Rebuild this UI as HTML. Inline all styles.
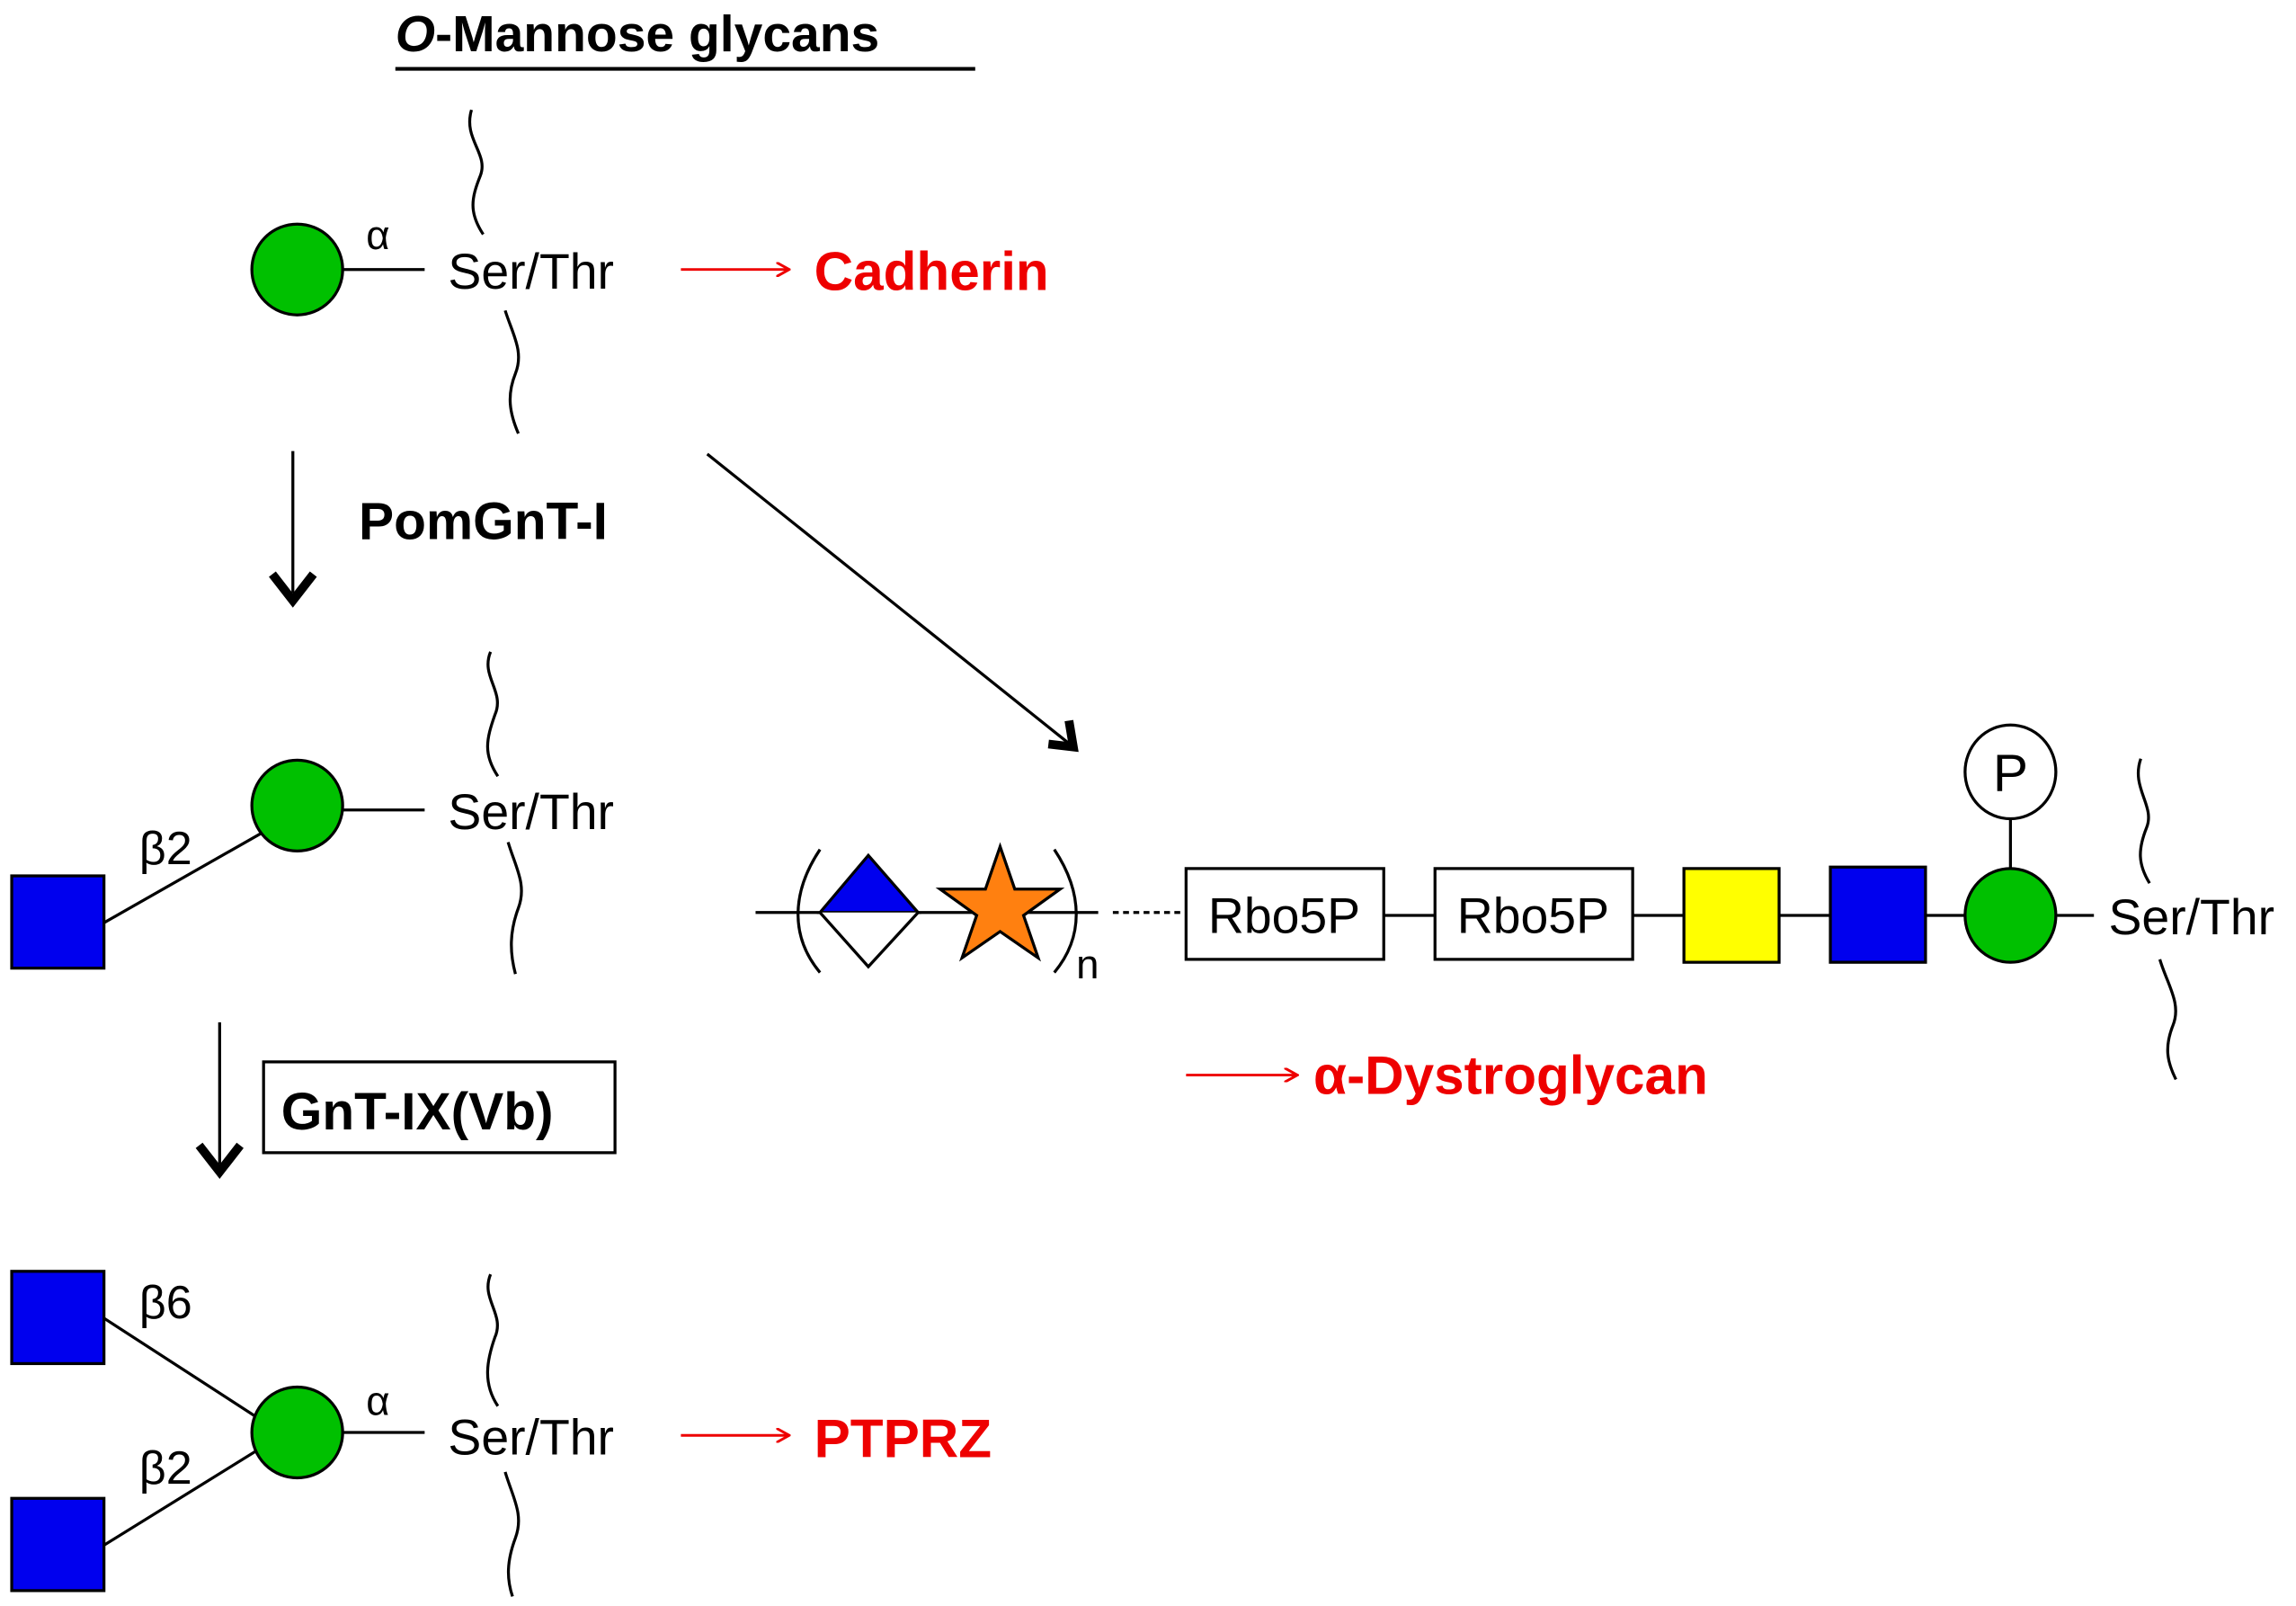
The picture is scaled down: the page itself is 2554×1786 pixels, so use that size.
<!DOCTYPE html>
<html><head><meta charset="utf-8"><style>html,body{margin:0;padding:0;background:#fff}svg{display:block}</style></head>
<body>
<svg width="2554" height="1786" viewBox="0 0 1568 1096.5" xmlns="http://www.w3.org/2000/svg" font-family="Liberation Sans, Arial, sans-serif">
<defs>
<marker id="ar" markerWidth="10" markerHeight="10" refX="9" refY="5" orient="auto" markerUnits="userSpaceOnUse"><path d="M0,0 L9,5 L0,10" fill="none" stroke="#e00" stroke-width="1.8"/></marker>
</defs>
<g stroke="#000" stroke-width="2" fill="none">
<!-- title -->
<line x1="270" y1="47" x2="666" y2="47" stroke-width="2.5"/>
<!-- structure 1 -->
<line x1="234" y1="184" x2="290" y2="184"/>
<path d="M322,75 C316,95 334,105 328,120 C322,135 320,145 330,160"/>
<path d="M345,212 C350,228 358,240 352,255 C346,270 348,282 354,296"/>
<!-- arrow down 1 -->
<line x1="200" y1="308" x2="200" y2="405"/>
<path d="M186,392 L200,410 L214,392" stroke-width="6"/>
<!-- diagonal arrow -->
<line x1="483" y1="310" x2="733" y2="510"/>
<path d="M716,508 L733,510 L730,492" stroke-width="6"/>
<!-- structure 2 -->
<line x1="234" y1="553" x2="290" y2="553"/>
<line x1="71" y1="630" x2="180" y2="568"/>
<path d="M335,445 C328,462 345,472 338,488 C332,505 330,515 340,530"/>
<path d="M347,575 C352,592 360,604 354,620 C348,636 348,650 352,665"/>
<!-- arrow down 2 -->
<line x1="150" y1="698" x2="150" y2="795"/>
<path d="M136,782 L150,800 L164,782" stroke-width="6"/>
<rect x="180" y="725" width="240" height="62" stroke-width="2"/>
<!-- structure 3 -->
<line x1="234" y1="978" x2="290" y2="978"/>
<line x1="71" y1="900" x2="176" y2="968"/>
<line x1="71" y1="1055" x2="176" y2="990"/>
<path d="M335,870 C328,887 345,897 338,913 C332,930 330,945 340,960"/>
<path d="M345,1005 C350,1022 358,1034 352,1050 C346,1066 346,1078 350,1090"/>
<!-- right chain -->
<line x1="516" y1="623" x2="750" y2="623"/>
<line x1="760" y1="623" x2="808" y2="623" stroke-dasharray="4,3"/>
<line x1="945" y1="625" x2="980" y2="625"/>
<line x1="1115" y1="625" x2="1150" y2="625"/>
<line x1="1215" y1="625" x2="1250" y2="625"/>
<line x1="1315" y1="625" x2="1342" y2="625"/>
<line x1="1405" y1="625" x2="1430" y2="625"/>
<line x1="1373" y1="559" x2="1373" y2="593"/>
<path d="M560,580 C540,610 540,640 560,664"/>
<path d="M720,580 C740,610 740,640 720,664"/>
<path d="M1462,518 C1455,538 1472,550 1466,565 C1460,580 1460,590 1468,603"/>
<path d="M1475,655 C1480,672 1490,685 1484,700 C1478,715 1480,725 1486,737"/>
</g>
<!-- red arrows -->
<g stroke="#e00" stroke-width="1.8" fill="none">
<line x1="465" y1="184" x2="539" y2="184" marker-end="url(#ar)"/>
<line x1="465" y1="980" x2="539" y2="980" marker-end="url(#ar)"/>
<line x1="810" y1="734" x2="886" y2="734" marker-end="url(#ar)"/>
</g>
<!-- shapes -->
<g stroke="#000" stroke-width="2">
<ellipse cx="203" cy="184" rx="31" ry="31" fill="#00c000"/>
<ellipse cx="203" cy="550" rx="31" ry="31" fill="#00c000"/>
<rect x="8" y="598" width="63" height="63" fill="#0000ee"/>
<ellipse cx="203" cy="978" rx="31" ry="31" fill="#00c000"/>
<rect x="8" y="868" width="63" height="63" fill="#0000ee"/>
<rect x="8" y="1023" width="63" height="63" fill="#0000ee"/>
<path d="M560,623 L593,584 L627,623 Z" fill="#0000ee"/>
<path d="M560,623 L593,660 L627,623" fill="#fff"/>
<path d="M683,578 L693,607 L724,607 L699,625 L709,654 L683,636 L657,654 L667,625 L642,607 L673,607 Z" fill="#ff8010"/>
<rect x="810" y="593" width="135" height="62" fill="#fff"/>
<rect x="980" y="593" width="135" height="62" fill="#fff"/>
<rect x="1150" y="593" width="65" height="64" fill="#ffff00"/>
<rect x="1250" y="592" width="65" height="65" fill="#0000ee"/>
<ellipse cx="1373" cy="625" rx="31" ry="32" fill="#00c000"/>
<ellipse cx="1373" cy="527" rx="31" ry="32" fill="#fff"/>
</g>
<!-- text -->
<g fill="#000">
<text x="270" y="35" font-size="35" font-weight="bold"><tspan font-style="italic">O</tspan>-Mannose glycans</text>
<text x="250" y="170" font-size="28">α</text>
<text x="306" y="197" font-size="34">Ser/Thr</text>
<text x="245" y="368" font-size="36" font-weight="bold">PomGnT-I</text>
<text x="95" y="590" font-size="32">β2</text>
<text x="306" y="566" font-size="34">Ser/Thr</text>
<text x="192" y="771" font-size="36" font-weight="bold">GnT-IX(Vb)</text>
<text x="95" y="900" font-size="32">β6</text>
<text x="95" y="1013" font-size="32">β2</text>
<text x="250" y="966" font-size="28">α</text>
<text x="306" y="993" font-size="34">Ser/Thr</text>
<text x="735" y="668" font-size="28">n</text>
<text x="877" y="637" font-size="34" text-anchor="middle">Rbo5P</text>
<text x="1047" y="637" font-size="34" text-anchor="middle">Rbo5P</text>
<text x="1373" y="540" font-size="36" text-anchor="middle">P</text>
<text x="1440" y="638" font-size="34">Ser/Thr</text>
</g>
<g fill="#e00" font-weight="bold" font-size="37">
<text x="556" y="198">Cadherin</text>
<text x="556" y="995">PTPRZ</text>
<text x="897" y="747">α-Dystroglycan</text>
</g>
</svg>
</body></html>
